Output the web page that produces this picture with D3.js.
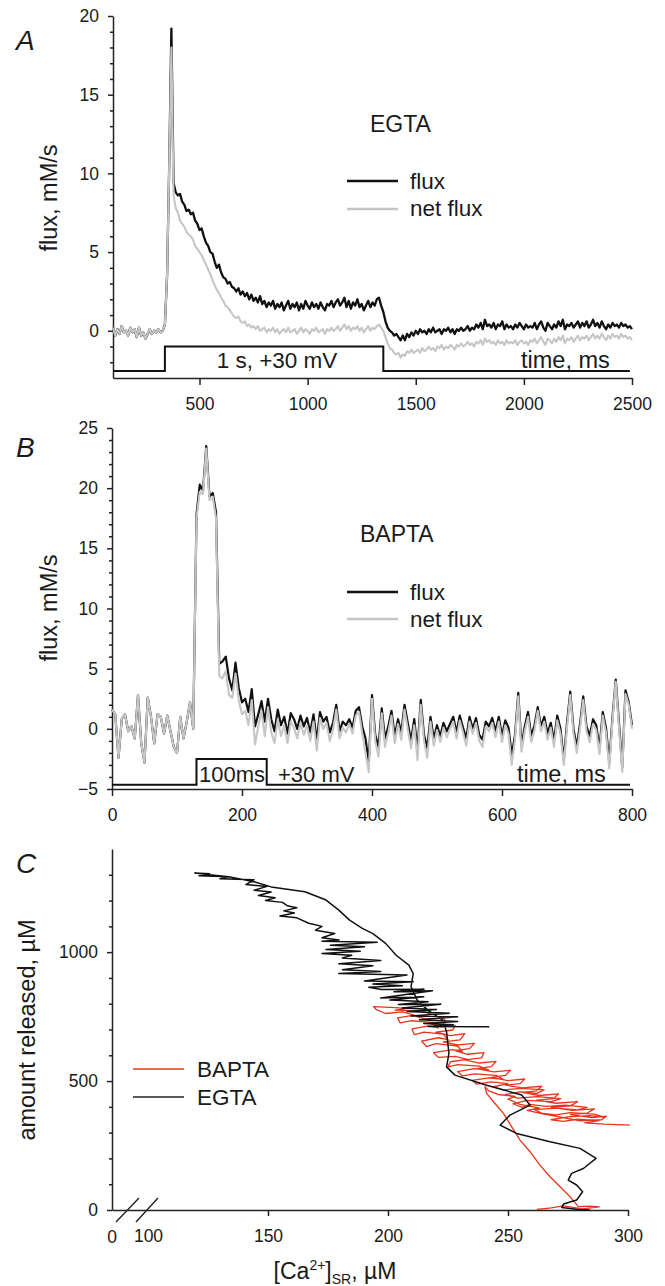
<!DOCTYPE html>
<html><head><meta charset="utf-8">
<script src="https://cdn.jsdelivr.net/npm/d3@7"></script>
<style>
body{margin:0;background:#fff}
text{font-family:"Liberation Sans",Arial,sans-serif;fill:#1a1a1a}
.axis path,.axis line{stroke:#222;stroke-width:1.5}
.axis text{font-family:"Liberation Sans",Arial,sans-serif;font-size:17.5px;fill:#1a1a1a}
</style>
</head><body>
<svg id="chart" width="665" height="1286"></svg>
<script>
// ---------- Panel A (EGTA), sampled every 10 ms from 100 ms ----------
const aStart = 100, aStep = 10;
const fluxA = [
0.2,-0.3,0.1,-0.2,0.3,-0.1,0.0,-0.3,0.2,-0.1,0.1,-0.4,0.2,-0.3,-0.1,-0.5,-0.2,0.1,-0.2,0.0,-0.1,0.1,-0.1,0.0,
0.4,3.5,10.5,19.2,9.4,8.8,8.6,8.7,8.2,8.0,
7.6,7.7,7.4,7.5,7.0,6.8,6.4,6.5,6.0,5.6,
5.4,5.0,4.9,4.4,4.0,4.2,3.7,3.4,3.3,3.0,
3.1,2.8,2.7,2.5,2.7,2.3,2.5,2.2,2.4,2.0,
2.3,1.9,2.1,1.8,2.2,1.7,1.9,1.5,1.8,1.6,
1.9,1.4,1.7,1.5,1.8,1.3,1.6,1.9,1.4,1.7,
1.5,1.8,1.3,1.7,1.4,1.9,1.6,1.4,1.8,1.5,
1.7,1.4,1.8,1.5,1.3,1.7,1.6,1.9,1.5,1.8,
2.0,1.6,1.8,2.1,1.5,1.9,1.4,1.8,1.6,2.0,
1.5,1.7,1.3,1.6,1.9,1.5,1.8,1.6,2.0,2.1,
1.6,1.2,0.6,0.2,0.0,-0.1,-0.3,-0.2,-0.4,-0.6,
-0.3,-0.6,-0.2,-0.4,-0.1,-0.3,0.0,-0.2,0.1,-0.1,
0.0,-0.2,0.1,-0.1,0.2,-0.1,0.0,0.1,-0.2,0.1,
0.0,0.2,-0.1,0.1,-0.2,0.1,0.0,0.2,0.0,0.1,
0.3,0.0,0.2,0.1,0.4,0.2,0.5,0.1,0.7,0.3,
0.4,0.2,0.5,0.1,0.4,0.3,0.6,0.1,0.4,0.2,
0.3,0.1,0.4,0.2,0.5,0.3,0.1,0.4,0.2,0.3,
0.2,0.5,0.1,0.4,0.6,0.2,0.0,0.5,0.3,0.1,
0.4,0.2,0.6,0.3,0.7,0.1,0.4,0.3,0.5,0.2,
0.4,0.6,0.2,0.5,0.3,0.6,0.2,0.4,0.7,0.3,
0.5,0.2,0.6,0.3,0.1,0.4,0.2,0.5,0.3,0.4,
0.2,0.5,0.3,0.4,0.2,0.3,0.1
];
const netFluxA = [
0.2,-0.3,0.1,-0.2,0.3,-0.1,0.0,-0.3,0.2,-0.1,0.1,-0.4,0.2,-0.3,-0.1,-0.5,-0.2,0.1,-0.2,0.0,-0.1,0.1,-0.1,0.0,
0.4,3.5,10.5,18.0,8.6,7.8,7.5,7.0,6.8,6.6,
6.3,6.1,6.0,5.8,5.4,5.2,5.0,4.8,4.5,4.2,
3.9,3.6,3.2,2.9,2.6,2.4,2.1,1.9,1.6,1.5,
1.3,1.1,0.9,0.8,0.9,0.6,0.5,0.6,0.3,0.4,
0.2,0.3,0.1,0.3,0.0,0.1,0.2,-0.1,0.1,0.0,
0.2,-0.1,0.1,-0.2,0.0,0.1,-0.1,0.2,-0.1,0.0,
0.1,-0.2,0.0,0.2,-0.1,0.1,0.0,-0.2,0.1,0.0,
0.2,-0.1,0.0,0.1,-0.2,0.1,0.0,0.2,0.0,0.1,
0.3,0.0,0.2,0.4,0.1,0.3,0.0,0.2,0.1,0.3,
0.0,0.2,-0.1,0.1,0.3,0.0,0.2,0.1,0.3,0.4,
0.2,0.0,-0.4,-0.8,-1.1,-1.2,-1.4,-1.5,-1.4,-1.7,
-1.5,-1.6,-1.3,-1.4,-1.2,-1.4,-1.3,-1.2,-1.4,-1.1,
-1.3,-1.2,-1.0,-1.2,-1.1,-1.3,-1.0,-1.1,-0.9,-1.2,
-1.0,-1.1,-0.9,-1.0,-1.2,-0.9,-1.0,-0.8,-1.0,-0.9,
-0.7,-0.9,-0.8,-1.0,-0.7,-0.8,-0.6,-0.9,-0.5,-0.7,
-0.6,-0.8,-0.7,-0.9,-0.6,-0.8,-0.7,-0.9,-0.6,-0.8,
-0.7,-0.8,-0.6,-0.9,-0.7,-0.6,-0.8,-0.7,-0.9,-0.6,
-0.7,-0.5,-0.8,-0.6,-0.4,-0.7,-0.9,-0.5,-0.6,-0.8,
-0.5,-0.7,-0.4,-0.6,-0.3,-0.8,-0.5,-0.6,-0.4,-0.7,
-0.5,-0.3,-0.6,-0.4,-0.5,-0.3,-0.6,-0.4,-0.2,-0.5,
-0.3,-0.5,-0.2,-0.4,-0.6,-0.3,-0.5,-0.2,-0.4,-0.3,
-0.5,-0.2,-0.4,-0.3,-0.5,-0.4,-0.6
];
const pulseA = [[100,-2.55],[340,-2.55],[340,-1],[1350,-1],[1350,-2.55],[2490,-2.55]];
const xTicksA = [500,1000,1500,2000,2500];
const yTicksA = [0,5,10,15,20];

// ---------- Panel B (BAPTA), sampled every 5 ms from 0 ms ----------
const bStart = 0, bStep = 5;
const fluxB = [
1.6,1.2,-2.4,0.8,1.2,-0.2,0.2,-0.8,2.8,-1.2,-2.8,2.6,1.0,-1.2,1.2,1.0,-0.4,1.1,-0.2,-1.5,-2.0,1.0,-0.8,0.6,2.2,0.0,
17.8,20.3,19.8,23.5,19.3,19.6,18.0,5.4,5.6,6.0,4.2,3.2,5.5,3.4,2.2,
2.5,1.4,3.3,0.2,1.2,2.3,0.6,2.5,0.8,-0.2,1.6,0.3,1.0,-0.4,1.3,0.8,0.0,1.1,0.2,0.9,
-0.3,1.2,-1.0,1.4,0.6,1.0,-0.3,0.5,2.0,-0.2,0.6,0.3,0.8,0.1,1.5,1.8,0.2,-0.8,-2.8,2.8,
-0.5,-1.5,1.7,-0.8,0.2,1.5,-0.6,0.8,-0.3,2.0,0.5,-1.0,0.8,-1.8,2.4,-0.5,-1.6,1.0,-0.8,0.3,
-0.6,0.5,-0.2,0.4,1.0,-0.3,1.1,0.1,-0.8,1.0,0.0,0.9,-0.5,-0.9,0.6,0.2,0.9,-0.2,1.0,-0.6,
0.7,0.1,-2.2,-0.5,3.0,-1.4,0.2,1.4,-0.6,0.3,1.8,0.2,1.0,-0.4,0.5,-1.0,1.1,0.0,-2.6,0.5,
3.1,0.0,-1.5,0.4,2.7,0.2,-0.6,0.8,0.3,-1.6,1.4,0.1,-2.8,1.0,4.1,0.5,-3.2,3.2,2.2,0.3
];
const netFluxB = [
1.6,1.2,-2.4,0.8,1.2,-0.2,0.2,-0.8,2.8,-1.2,-2.8,2.6,1.0,-1.2,1.2,1.0,-0.4,1.1,-0.2,-1.5,-2.0,1.0,-0.8,0.6,2.2,0.0,
17.5,19.7,19.5,23.3,19.0,19.3,17.5,4.4,4.2,4.8,2.8,2.6,4.6,2.4,1.2,
1.5,0.3,2.4,-1.3,0.2,1.5,-0.6,1.8,-0.3,-1.2,0.8,-0.6,0.3,-1.2,0.6,0.1,-0.8,0.5,-0.5,0.3,
-1.0,0.6,-1.8,0.9,0.0,0.5,-1.0,-0.1,1.6,-0.8,0.1,-0.3,0.4,-0.4,1.1,1.4,-0.4,-2.0,-3.6,2.5,
-1.0,-2.3,1.3,-1.5,-0.3,1.1,-1.2,0.4,-0.9,1.6,0.0,-1.6,0.3,-2.6,2.0,-1.0,-2.4,0.6,-1.4,-0.1,
-1.1,0.1,-0.7,0.0,0.6,-0.8,0.7,-0.3,-1.4,0.6,-0.4,0.5,-1.0,-1.5,0.2,-0.2,0.5,-0.7,0.6,-1.1,
0.3,-0.4,-3.0,-0.9,2.7,-1.9,-0.2,1.0,-1.1,-0.1,1.5,-0.2,0.6,-0.9,0.1,-1.5,0.7,-0.4,-3.0,0.1,
2.8,-0.4,-2.0,0.0,2.4,-0.2,-1.1,0.4,-0.1,-2.1,1.1,-0.3,-3.3,0.7,3.9,0.1,-3.6,2.9,2.0,0.0
];
const pulseB = [[0,-4.65],[130,-4.65],[130,-2.5],[238,-2.5],[238,-4.65],[797,-4.65]];
const xTicksB = [0,200,400,600,800];
const yTicksB = [-5,0,5,10,15,20,25];

// ---------- Panel C: amount released vs [Ca2+]SR ----------
const egtaCurve = [
[284.2,0],[279.3,2],[272.4,10],[273.1,23],[278.6,39],[281.1,71],[278.6,97],[275.1,116],[276.5,142],[281.4,161],
[286.7,200],[280,239],[267.5,265],[253.6,297],[246.7,329],[250.8,368],[259.2,407],[255.7,446],[241.1,484],[227.9,523],
[224.4,555],[225.4,607],[224.4,691],[222.8,736],[216.6,775],[212.2,814],[209.6,866],[210.5,917],[208.7,950],[203.4,988],
[199,1034],[193.7,1072],[189.3,1092],[184,1124],[179.5,1163],[174.2,1202],[165.4,1234],[151.3,1253],[144.2,1273],[133.6,1292],
[126.6,1299],[119.5,1307],
[125.7,1304],[121.3,1296],[133.6,1292],[130,1285],[144.2,1281],[140.8,1262],[149.6,1255],[144.2,1240],[151.3,1233],[146,1220],
[153,1211],[149,1200],[156,1193],[158,1180],[162,1172],[156.6,1160],[161,1152],[155,1140],[162,1133],[167,1112],
[172.5,1100],[169.8,1085],[177.8,1072],[172.5,1056],[179.6,1047],[172.5,1042],[195.5,1038],[176,1027],[190.2,1021],[174.2,1010],
[188.4,1003],[172.5,995],[184.9,988],[181,977],[197,968],[179.5,955],[193.7,947],[181,932],[197,925],[179.5,917],
[207.9,911],[190.2,888],[210.5,885],[193.7,876],[206,870],[192,864],[197.2,855],[215,856],[202.5,846],[218.5,850],
[197,822],[214.9,827],[200.8,814],[216.7,808],[204.3,797],[222,798],[206,783],[220.2,778],[207.9,770],[225.5,763],
[209.6,752],[229,749],[213.1,738],[229,731],[214.9,723],[227.2,718],[216.7,712],[242.2,711]
];
const baptaCurve = [
[300.8,329],[290,333],[282,338],[288,347],[279,352],[273,344],[268,350],[275,361],[284,366],[290,360],
[286,372],[276,378],[270,369],[264,376],[261,389],[270,395],[279,388],[283,398],[274,407],[266,402],
[259,410],[256,398],[252,412],[258,425],[268,420],[272,432],[262,440],[254,434],[249,448],[255,458],
[262,452],[265,466],[256,472],[248,466],[244,478],[250,490],[243,497],[237,488],[235,503],[242,512],
[248,507],[245,522],[236,528],[231,520],[229,537],[236,548],[242,543],[238,558],[229,564],[225,555],
[226,575],[233,584],[228,596],[221,592],[219,610],[227,622],[231,614],[229,636],[220,645],[216,634],
[214,655],[221,668],[225,661],[223,682],[215,690],[211,680],[210,702],[217,714],[221,706],[219,727],
[210,734],[205,726],[204,745],[211,756],[206,768],[199,762],[195,778],[194,789],[201,786],[208,782],
[203,775],[214,772],
[218,760],[212,750],[216,740],[223,746],[224,730],[218,722],[222,710],[228,716],[227,698],[220,690],
[226,676],[232,684],[230,660],[223,652],[229,640],[236,646],[234,626],[228,618],[233,604],[240,610],
[239,590],[232,582],[238,570],[245,576],[243,556],[237,548],[244,536],[251,542],[249,522],[243,514],
[250,502],[257,508],[255,490],[249,484],[256,474],[264,480],[262,462],[256,456],[263,444],[271,450],
[269,432],[262,426],[270,414],[279,420],[276,404],[268,398],[277,386],[286,392],[283,376],[276,370],
[285,358],[291,364],[289,350],[280,346],
[272,360],[265,372],[258,386],[263,396],[255,410],[250,430],[253,441],[246,448],[242,462],
[240.4,478],[241.1,452],[244.6,413],[248.1,375],[251.5,323],[255,271],[259.2,226],[263.3,174],[267.5,129],[271.7,90],
[275.8,52],[279.3,13],[284,15],[288,12],[281,4],[273,16],[268,8],[262,2]
];
const xTicksC = [100,150,200,250,300];
const yTicksC = [0,500,1000];

// ---------------------------------------------------------------
const svg = d3.select("#chart");
const BLACK = "#111", GREY = "#c6c6c6", RED = "#e8341c";

function yAxes(g, y, major, minor) {
  g.append("g").attr("class","axis")
    .call(d3.axisLeft(y).tickValues(major).tickSize(5).tickSizeOuter(0).tickPadding(9).tickFormat(d3.format("d")));
  const m = g.append("g").attr("class","axis")
    .call(d3.axisLeft(y).tickValues(minor).tickSize(3).tickFormat(""));
  m.select(".domain").remove();
}

// ===== Panel A =====
{
  const x = d3.scaleLinear().domain([100,2500]).range([113,632]);
  const y = d3.scaleLinear().domain([-3,20]).range([378,16]);
  const g = svg.append("g");
  g.append("g").attr("class","axis").attr("transform","translate(0,378)")
    .call(d3.axisBottom(x).tickValues(xTicksA).tickSize(7).tickSizeOuter(0).tickPadding(13).tickFormat(d3.format("d")));
  const ga = g.append("g").attr("transform","translate(113,0)");
  yAxes(ga, y, yTicksA, d3.range(-2,20).filter(v => v % 5 !== 0));
  const line = d3.line().x((d,i)=>x(aStart + i*aStep)).y(d=>y(d));
  g.append("path").datum(fluxA).attr("d",line).attr("fill","none").attr("stroke",BLACK).attr("stroke-width",2.3).attr("stroke-linejoin","round");
  g.append("path").datum(netFluxA).attr("d",line).attr("fill","none").attr("stroke",GREY).attr("stroke-width",2.1).attr("stroke-linejoin","round");
  const pl = d3.line().x(d=>x(d[0])).y(d=>y(d[1]));
  g.append("path").datum(pulseA).attr("d",pl).attr("fill","none").attr("stroke",BLACK).attr("stroke-width",2);
  g.append("text").attr("x",277).attr("y",368).attr("text-anchor","middle").attr("font-size",22.5).text("1 s, +30 mV");
  g.append("text").attr("x",521).attr("y",368).attr("font-size",23.5).text("time, ms");
  g.append("text").attr("x",370).attr("y",132).attr("font-size",23).text("EGTA");
  g.append("line").attr("x1",347).attr("x2",398).attr("y1",181).attr("y2",181).attr("stroke",BLACK).attr("stroke-width",2.3);
  g.append("line").attr("x1",347).attr("x2",398).attr("y1",209).attr("y2",209).attr("stroke",GREY).attr("stroke-width",2.3);
  g.append("text").attr("x",410).attr("y",189).attr("font-size",22.5).text("flux");
  g.append("text").attr("x",410).attr("y",216).attr("font-size",22.5).text("net flux");
  g.append("text").attr("transform","translate(57,198) rotate(-90)").attr("text-anchor","middle").attr("font-size",23.5).text("flux, mM/s");
  g.append("text").attr("x",16).attr("y",50).attr("font-size",28).attr("font-style","italic").text("A");
}

// ===== Panel B =====
{
  const x = d3.scaleLinear().domain([0,800]).range([112,632]);
  const y = d3.scaleLinear().domain([-5,25]).range([789,428]);
  const g = svg.append("g");
  g.append("g").attr("class","axis").attr("transform","translate(0,789)")
    .call(d3.axisBottom(x).tickValues(xTicksB).tickSize(7).tickSizeOuter(0).tickPadding(13));
  const ga = g.append("g").attr("transform","translate(112,0)");
  yAxes(ga, y, yTicksB, d3.range(-4,25).filter(v => v % 5 !== 0));
  const line = d3.line().x((d,i)=>x(bStart + i*bStep)).y(d=>y(d));
  g.append("path").datum(fluxB).attr("d",line).attr("fill","none").attr("stroke",BLACK).attr("stroke-width",2.2).attr("stroke-linejoin","round");
  g.append("path").datum(netFluxB).attr("d",line).attr("fill","none").attr("stroke",GREY).attr("stroke-width",2.1).attr("stroke-linejoin","round");
  const pl = d3.line().x(d=>x(d[0])).y(d=>y(d[1]));
  g.append("path").datum(pulseB).attr("d",pl).attr("fill","none").attr("stroke",BLACK).attr("stroke-width",2);
  g.append("text").attr("x",199).attr("y",782).attr("font-size",22).text("100ms");
  g.append("text").attr("x",278).attr("y",782).attr("font-size",22).text("+30 mV");
  g.append("text").attr("x",517).attr("y",782).attr("font-size",23.5).text("time, ms");
  g.append("text").attr("x",360).attr("y",542).attr("font-size",23).text("BAPTA");
  g.append("line").attr("x1",347).attr("x2",398).attr("y1",592).attr("y2",592).attr("stroke",BLACK).attr("stroke-width",2.3);
  g.append("line").attr("x1",347).attr("x2",398).attr("y1",619).attr("y2",619).attr("stroke",GREY).attr("stroke-width",2.3);
  g.append("text").attr("x",410).attr("y",600).attr("font-size",22.5).text("flux");
  g.append("text").attr("x",410).attr("y",627).attr("font-size",22.5).text("net flux");
  g.append("text").attr("transform","translate(57,608) rotate(-90)").attr("text-anchor","middle").attr("font-size",23.5).text("flux, mM/s");
  g.append("text").attr("x",16).attr("y",457).attr("font-size",28).attr("font-style","italic").text("B");
}

// ===== Panel C =====
{
  const x = d3.scaleLinear().domain([85,300]).range([112,628]);
  const y = d3.scaleLinear().domain([0,1400]).range([1210,849]);
  const g = svg.append("g");
  const xa = g.append("g").attr("class","axis").attr("transform","translate(0,1210)")
    .call(d3.axisBottom(x).tickValues(xTicksC).tickSize(6).tickSizeOuter(0).tickPadding(14));
  xa.selectAll(".tick").filter(d => d === 100).select("line").remove();
  g.append("text").attr("x",112).attr("y",1243).attr("text-anchor","middle").attr("font-size",17.5).text("0");
  g.append("line").attr("x1",116).attr("y1",1222).attr("x2",139).attr("y2",1198).attr("stroke","#222").attr("stroke-width",1.4);
  g.append("line").attr("x1",136).attr("y1",1222).attr("x2",158).attr("y2",1198).attr("stroke","#222").attr("stroke-width",1.4);
  const ga = g.append("g").attr("transform","translate(112,0)");
  yAxes(ga, y, yTicksC, d3.range(100,1400,100).filter(v => v % 500 !== 0));
  const line = d3.line().x(d=>x(d[0])).y(d=>y(d[1]));
  g.append("path").datum(baptaCurve).attr("d",line).attr("fill","none").attr("stroke",RED).attr("stroke-width",1.3).attr("stroke-linejoin","round");
  g.append("path").datum(egtaCurve).attr("d",line).attr("fill","none").attr("stroke",BLACK).attr("stroke-width",1.5).attr("stroke-linejoin","round");
  g.append("line").attr("x1",133).attr("x2",184).attr("y1",1069).attr("y2",1069).attr("stroke",RED).attr("stroke-width",1.5);
  g.append("line").attr("x1",133).attr("x2",184).attr("y1",1097).attr("y2",1097).attr("stroke","#222").attr("stroke-width",1.5);
  g.append("text").attr("x",197).attr("y",1077).attr("font-size",22.5).text("BAPTA");
  g.append("text").attr("x",197).attr("y",1105).attr("font-size",22.5).text("EGTA");
  g.append("text").attr("transform","translate(35,1030) rotate(-90)").attr("text-anchor","middle").attr("font-size",23.5).text("amount released, \u00b5M");
  const t = g.append("text").attr("x",335).attr("y",1279).attr("text-anchor","middle").attr("font-size",23);
  t.append("tspan").text("[Ca");
  t.append("tspan").attr("font-size",14).attr("dy",-9).text("2+");
  t.append("tspan").attr("dy",9).text("]");
  t.append("tspan").attr("font-size",14).attr("dy",5).text("SR");
  t.append("tspan").attr("dy",-5).text(", \u00b5M");
  g.append("text").attr("x",16).attr("y",873).attr("font-size",28).attr("font-style","italic").text("C");
}
</script>
</body></html>
